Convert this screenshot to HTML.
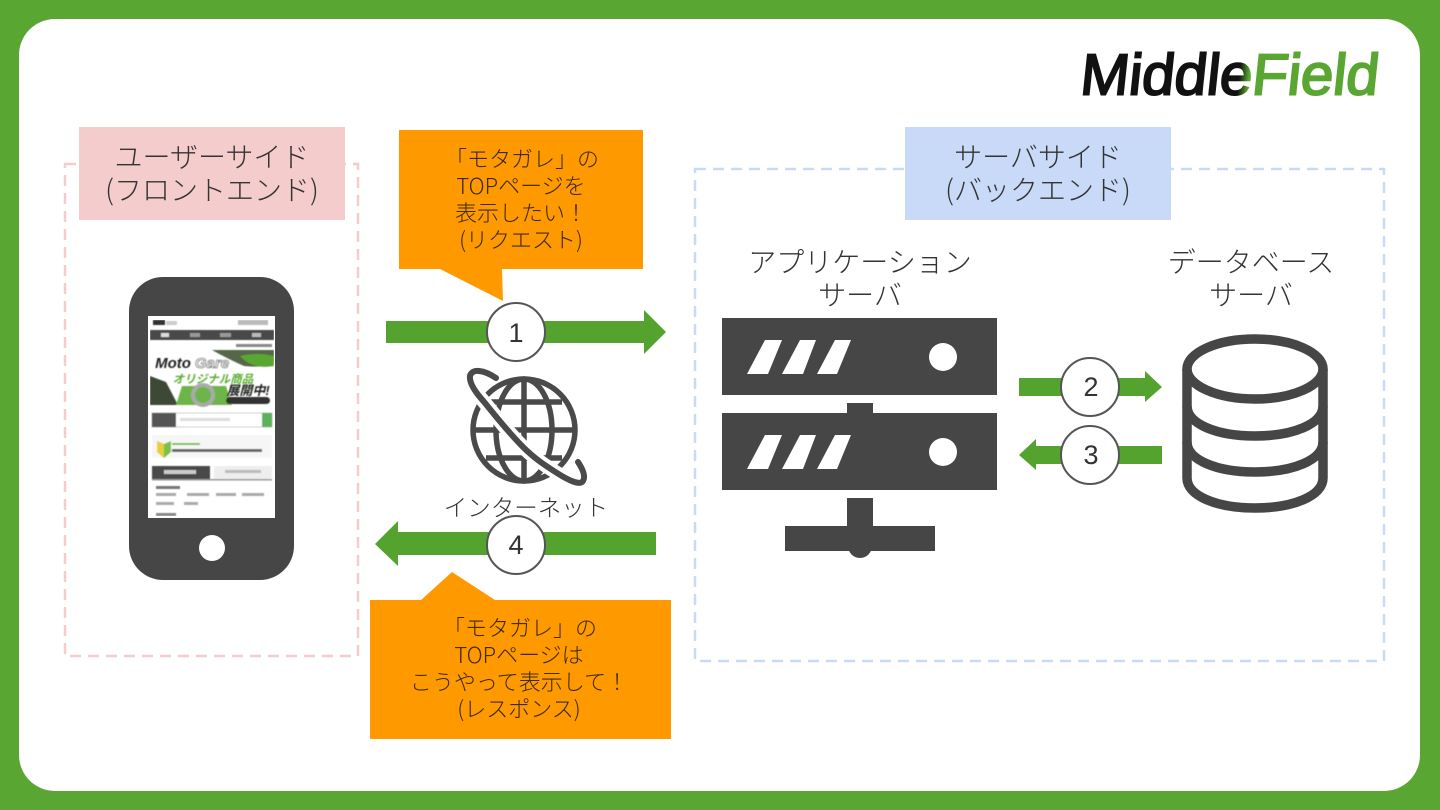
<!DOCTYPE html>
<html lang="ja"><head><meta charset="utf-8"><title>diagram</title>
<style>
html,body{margin:0;padding:0;background:#5aa632;width:1440px;height:810px;overflow:hidden}
svg{display:block}
text{font-family:"Liberation Sans","Noto Sans CJK JP",sans-serif;fill:#333;text-anchor:middle}
.h{font-size:28px;font-weight:300;font-family:"Noto Sans CJK JP","Liberation Sans",sans-serif}
.c{font-size:22px;font-weight:300;fill:#3f2a10;font-family:"Noto Sans CJK JP","Liberation Sans",sans-serif}
.n{font-size:27px;fill:#333}
</style></head><body>
<svg width="1440" height="810" viewBox="0 0 1440 810" xmlns="http://www.w3.org/2000/svg">
<defs>
<linearGradient id="lg" gradientUnits="userSpaceOnUse" x1="158" x2="168" y1="0" y2="0"><stop offset="0" stop-color="#111"/><stop offset="1" stop-color="#5aa632"/></linearGradient>
<filter id="sb" x="0" y="0" width="1" height="1"><feGaussianBlur stdDeviation="0.6"/></filter>
</defs>
<rect width="1440" height="810" fill="#5aa632"/>
<rect x="19" y="19" width="1401" height="772" rx="36" fill="#fff"/>

<!-- logo -->
<g transform="translate(1079,94.5) skewX(-6)">
<text x="149" y="0" textLength="298" lengthAdjust="spacingAndGlyphs" style="font-size:58px;font-weight:400;fill:url(#lg);stroke:url(#lg);stroke-width:2">MiddleField</text>
</g>

<!-- dashed zones -->
<rect x="65" y="164" width="293" height="492" fill="none" stroke="#f4cccc" stroke-width="2.5" stroke-dasharray="11 7"/>
<rect x="695" y="169" width="689" height="492" fill="none" stroke="#c9daf8" stroke-width="2.5" stroke-dasharray="11 7"/>
<rect x="79" y="127" width="266" height="93" fill="#f4cccc"/>
<rect x="905" y="127" width="266" height="93" fill="#c9daf8"/>
<text class="h" x="212" y="167">ユーザーサイド</text>
<text class="h" x="212" y="200">(フロントエンド)</text>
<text class="h" x="1038" y="167">サーバサイド</text>
<text class="h" x="1038" y="200">(バックエンド)</text>

<!-- callouts -->
<path d="M399 130H643V269H502L503 301L440 269H399Z" fill="#ff9900"/>
<path d="M370 600H421L452 572L495 600H671V739H370Z" fill="#ff9900"/>
<text class="c" x="522" y="167">「モタガレ」の</text>
<text class="c" x="521" y="194">TOPページを</text>
<text class="c" x="521" y="221">表示したい！</text>
<text class="c" x="521" y="248">(リクエスト)</text>
<text class="c" x="520" y="636">「モタガレ」の</text>
<text class="c" x="519" y="663">TOPページは</text>
<text class="c" x="519" y="690">こうやって表示して！</text>
<text class="c" x="519" y="717">(レスポンス)</text>

<!-- arrows -->
<path d="M386 321H644V310L666 332L644 354V343H386Z" fill="#53a32e"/>
<path d="M656 532H398V521L375 544L398 566V555H656Z" fill="#53a32e"/>
<path d="M1019 378H1145V371L1162 387L1145 402V396H1019Z" fill="#53a32e"/>
<path d="M1162 446H1036V439L1019 455L1036 470V464H1162Z" fill="#53a32e"/>

<!-- phone -->
<rect x="129" y="277" width="165" height="303" rx="34" fill="#464646"/>
<rect x="148" y="316" width="127" height="202" fill="#fff"/>
<circle cx="212" cy="548" r="13" fill="#fff"/>
<g filter="url(#sb)">
<rect x="153" y="320" width="12" height="5" fill="#333"/>
<rect x="166" y="321" width="11" height="4" fill="#ccc"/>
<rect x="238" y="320" width="30" height="5" fill="#bbb"/>
<rect x="150" y="330" width="124" height="10" fill="#4a4a4a"/>
<rect x="161" y="333" width="8" height="4" fill="#ddd"/><rect x="190" y="333" width="10" height="4" fill="#999"/><rect x="220" y="333" width="11" height="4" fill="#999"/><rect x="252" y="333" width="9" height="4" fill="#bbb"/>
<rect x="236" y="344" width="36" height="3" fill="#888"/>
<path d="M212 350H274V364Q262 368 244 366Q226 358 212 350Z" fill="#55664a"/>
<path d="M240 356Q258 352 274 356V366Q252 370 240 356Z" fill="#5aa632"/>
<path d="M150 405V376L166 382L178 405Z" fill="#3d4a34"/>
<path d="M176 405L182 386H226L232 405Z" fill="#6db548"/>
<circle cx="203" cy="395" r="10" fill="none" stroke="#aaa" stroke-width="4"/>
<text x="173" y="368" style="font-size:15px;font-weight:700;font-style:italic;fill:#222">Moto</text>
<text x="212" y="368" style="font-size:15px;font-weight:700;font-style:italic;fill:#e8e8e8;stroke:#555;stroke-width:.6">Gare</text>
<text x="213" y="383" style="font-size:11.5px;font-weight:700;font-style:italic;fill:#58b030">オリジナル商品</text>
<text x="248" y="395" style="font-size:13px;font-weight:700;font-style:italic;fill:#222">展開中!</text>
<rect x="226" y="397" width="44" height="7" rx="3.5" fill="#333"/>
<rect x="152" y="413" width="120" height="14" fill="#fff" stroke="#bbb" stroke-width=".7"/>
<rect x="152" y="413" width="24" height="14" fill="#555"/>
<rect x="262" y="413" width="10" height="14" fill="#5ab25a"/>
<rect x="180" y="418" width="50" height="3" fill="#ddd"/>
<rect x="152" y="435" width="120" height="23" fill="#f6f6f6"/>
<path d="M157 441L164 444L171 441V452L164 458L157 452Z" fill="#7cc04a"/><path d="M157 441L164 444V458L157 452Z" fill="#e6cf3a"/>
<rect x="172" y="443" width="28" height="2" fill="#7cc04a"/><rect x="172" y="449" width="90" height="3" fill="#666"/>
<rect x="152" y="466" width="58" height="13" fill="#4a4a4a"/>
<rect x="164" y="470" width="32" height="4" fill="#ccc"/>
<rect x="214" y="466" width="58" height="13" fill="#eee"/>
<rect x="225" y="470" width="36" height="3" fill="#bbb"/>
<rect x="152" y="479" width="120" height="1.5" fill="#999"/>
<rect x="156" y="486" width="24" height="3" fill="#777"/>
<rect x="156" y="493" width="20" height="3" fill="#aaa"/><rect x="187" y="493" width="22" height="3" fill="#aaa"/><rect x="216" y="493" width="20" height="3" fill="#aaa"/><rect x="242" y="493" width="22" height="3" fill="#aaa"/>
<rect x="156" y="502" width="18" height="3" fill="#aaa"/><rect x="184" y="502" width="14" height="3" fill="#aaa"/>
<rect x="156" y="513" width="20" height="3" fill="#888"/>
</g>

<!-- globe -->
<g fill="none" stroke="#4a4a4a" stroke-width="5.5">
<circle cx="524" cy="430" r="51"/>
<ellipse cx="524" cy="430" rx="28" ry="51"/>
<path d="M524 379V481M473 430H575M486 402H562M486 458H562"/>
</g>
<path d="M496 378C484 370 472 368 470 376C469 384 477 394 485 403C497 418 510 434 523 447C535 459 546 466 557 473C568 480 580 486 583 481C586 476 582 468 578 462" fill="none" stroke="#fff" stroke-width="14"/>
<path d="M496 378C484 370 472 368 470 376C469 384 477 394 485 403C497 418 510 434 523 447C535 459 546 466 557 473C568 480 580 486 583 481C586 476 582 468 578 462" fill="none" stroke="#4a4a4a" stroke-width="6" stroke-linecap="round"/>
<text x="526" y="516" style="font-size:23.5px;font-weight:300;font-family:'Noto Sans CJK JP',sans-serif">インターネット</text>

<!-- number circles -->
<g fill="#fff" stroke="#555" stroke-width="2">
<circle cx="516" cy="332" r="29"/>
<circle cx="516" cy="545" r="29"/>
<circle cx="1090" cy="387" r="29"/>
<circle cx="1090" cy="455" r="29"/>
</g>
<text class="n" x="516" y="342">1</text>
<text class="n" x="516" y="554">4</text>
<text class="n" x="1091" y="396">2</text>
<text class="n" x="1091" y="464">3</text>

<!-- server -->
<text class="h" x="860" y="272">アプリケーション</text>
<text class="h" x="860" y="305">サーバ</text>
<g fill="#464646">
<rect x="722" y="318" width="275" height="77"/>
<rect x="847" y="403" width="26" height="12"/>
<rect x="722" y="413" width="275" height="77"/>
<rect x="847" y="498" width="26" height="32"/>
<rect x="785" y="526" width="150" height="25"/>
<circle cx="860" cy="546" r="12"/>
</g>
<g fill="#fff">
<path d="M765 340H782L768 374H747Z"/><path d="M800 340H816L803 374H782Z"/><path d="M835 340H851L837 374H817Z"/>
<circle cx="943" cy="357" r="14"/>
<path d="M765 435H782L768 469H747Z"/><path d="M800 435H816L803 469H782Z"/><path d="M835 435H851L837 469H817Z"/>
<circle cx="943" cy="452" r="14"/>
</g>

<!-- database -->
<text class="h" x="1251" y="272">データベース</text>
<text class="h" x="1251" y="305">サーバ</text>
<g fill="none" stroke="#464646" stroke-width="9.5">
<ellipse cx="1255" cy="369" rx="68" ry="30"/>
<path d="M1187 369V478C1187 496 1217 508 1255 508C1293 508 1323 496 1323 478V369"/>
<path d="M1187 406C1187 424 1217 436 1255 436C1293 436 1323 424 1323 406"/>
<path d="M1187 442C1187 460 1217 472 1255 472C1293 472 1323 460 1323 442"/>
</g>
</svg>
</body></html>
